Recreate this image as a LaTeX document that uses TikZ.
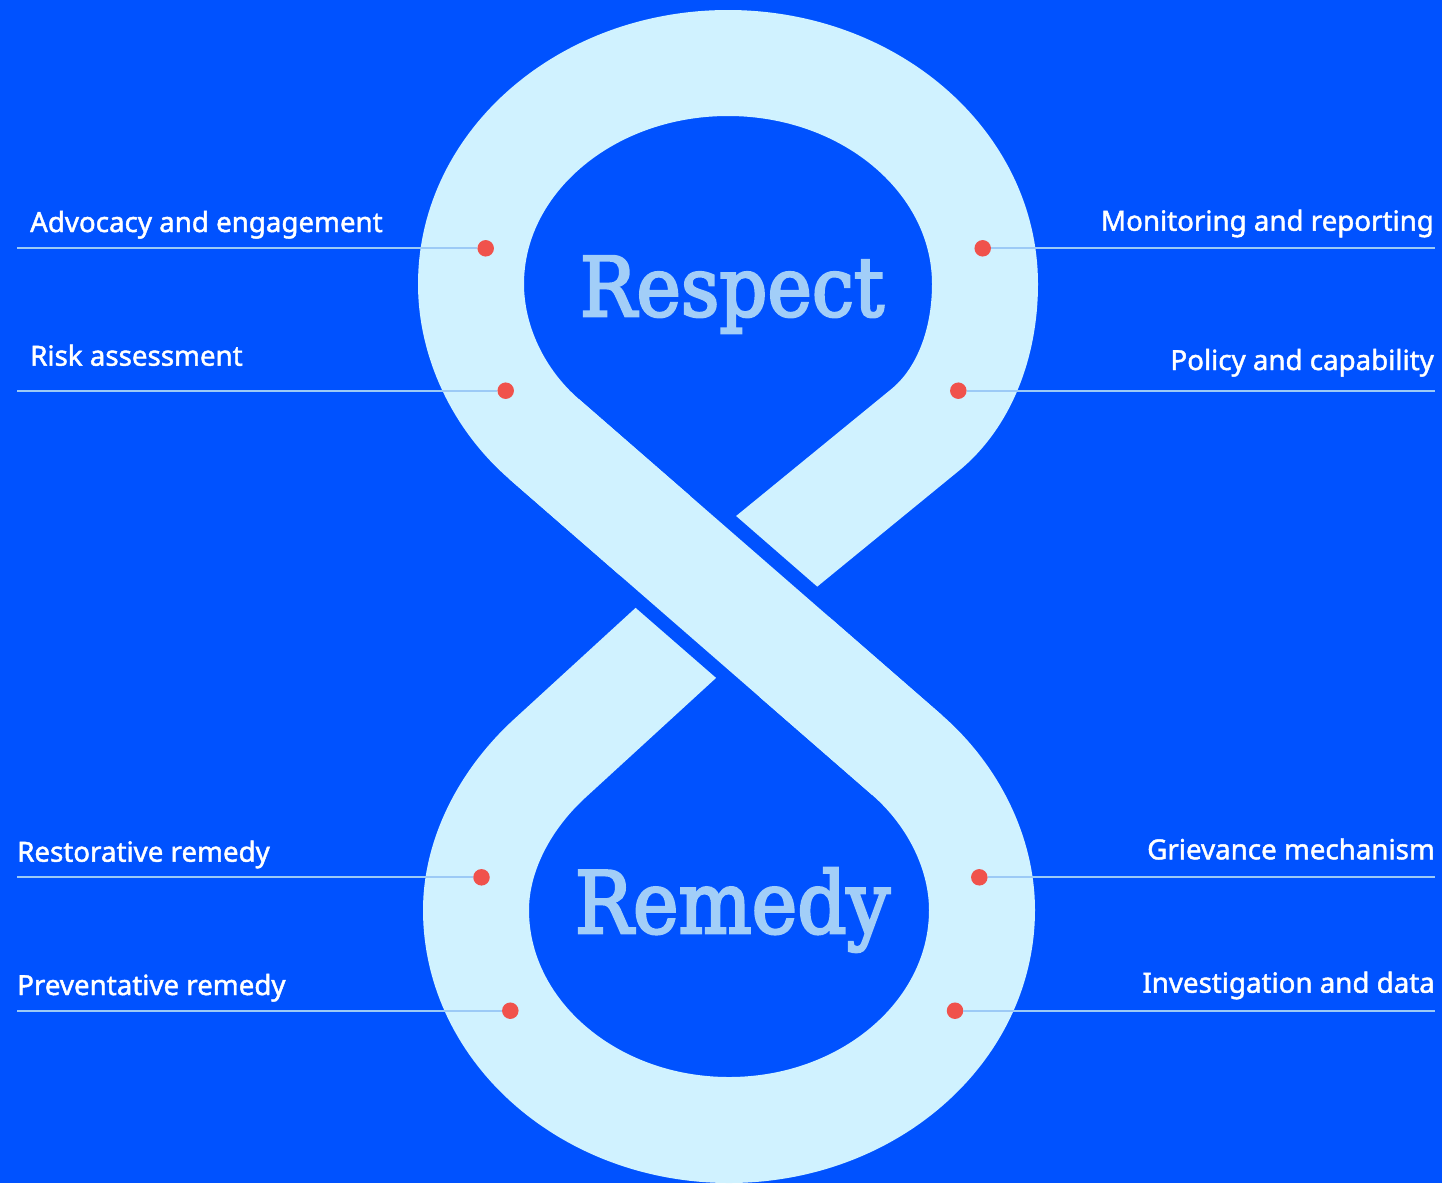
\documentclass[tikz,border=0pt]{standalone}
\usepackage{fontspec}
\usepackage{graphicx}
\setmainfont{Noto Sans}[AutoFakeBold=1.6]
\newfontfamily\serifbig{DejaVu Serif}[FakeBold=3.2]
\definecolor{bgblue}{HTML}{0052FF}
\definecolor{bandc}{HTML}{D0F2FF}
\definecolor{wordc}{HTML}{A2CEF8}
\definecolor{dotc}{HTML}{F0524C}
\definecolor{linec}{HTML}{9CCAF6}
\begin{document}
\begin{tikzpicture}[x=1pt,y=-1pt,
  band/.style={draw=bandc, line width=106pt, line join=round},
  halo/.style={draw=bgblue, line width=135pt},
  leader/.style={draw=linec, line width=1.8pt},
  dot/.style={circle, fill=dotc, minimum size=16.5pt, inner sep=0pt},
  lab/.style={text=white, font=\fontsize{27.7}{32}\selectfont\bfseries, inner sep=0pt},
  big/.style={text=wordc, inner sep=0pt}]
\useasboundingbox (0,0) rectangle (1442,1183);
\fill[bgblue] (0,0) rectangle (1442,1183);
% figure eight
\draw[band] (722,596) -- (925,430) .. controls (963,399) and (985,345) .. (985,284)
  .. controls (985,161.9) and (869.9,63) .. (728,63)
  .. controls (586.1,63) and (471,161.9) .. (471,284)
  .. controls (471,341) and (498,399) .. (544,439)
  -- (907,755)
  .. controls (954,796) and (982,854) .. (982,910)
  .. controls (982,1031.5) and (868.7,1130) .. (729,1130)
  .. controls (589.3,1130) and (476,1031.5) .. (476,910)
  .. controls (476,857) and (503,802) .. (548,760)
  -- (727,596) -- cycle;
\draw[halo] (655.6,535.6) -- (794.4,656.4);
\draw[band] (544,439) -- (907,755);
% words
\node[big, anchor=base] (respect) at (732,316) {\resizebox*{304pt}{77pt}{\serifbig Respect}};
\node[big, anchor=base] (remedy) at (732.5,933) {\resizebox*{315pt}{84pt}{\serifbig Remedy}};
% leader lines and dots
\coordinate (e1) at (17,248.3);
\coordinate (e2) at (17,390.7);
\coordinate (e3) at (17,877.3);
\coordinate (e4) at (17,1010.7);
\coordinate (e5) at (1435,248.3);
\coordinate (e6) at (1435,390.7);
\coordinate (e7) at (1435,877.3);
\coordinate (e8) at (1435,1010.7);
\node[dot] (d1) at (485.7,248.3) {};
\node[dot] (d2) at (505.7,390.7) {};
\node[dot] (d3) at (481.5,877.3) {};
\node[dot] (d4) at (510.3,1010.7) {};
\node[dot] (d5) at (982.7,248.3) {};
\node[dot] (d6) at (958.3,390.7) {};
\node[dot] (d7) at (979.3,877.3) {};
\node[dot] (d8) at (955,1010.7) {};
\draw[leader] (e1) -- (d1);
\draw[leader] (e2) -- (d2);
\draw[leader] (e3) -- (d3);
\draw[leader] (e4) -- (d4);
\draw[leader] (d5) -- (e5);
\draw[leader] (d6) -- (e6);
\draw[leader] (d7) -- (e7);
\draw[leader] (d8) -- (e8);
% labels
\node[lab, anchor=base west] (t1) at (30,232) {Advocacy and engagement};
\node[lab, anchor=base west] (t2) at (30,365.7) {Risk assessment};
\node[lab, anchor=base west] (t3) at (17,861.7) {Restorative remedy};
\node[lab, anchor=base west] (t4) at (17,995) {Preventative remedy};
\node[lab, anchor=base east] (t5) at (1434,230.7) {Monitoring and reporting};
\node[lab, anchor=base east] (t6) at (1434,370) {Policy and capability};
\node[lab, anchor=base east] (t7) at (1435,859.3) {Grievance mechanism};
\node[lab, anchor=base east] (t8) at (1435,992.7) {Investigation and data};
\end{tikzpicture}
\end{document}
